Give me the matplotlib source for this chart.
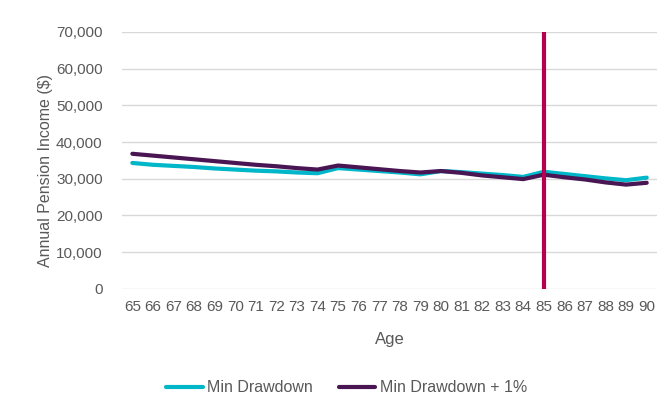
import matplotlib.pyplot as plt
import numpy as np

ages = list(range(65, 91))
min_drawdown = [34300, 33800, 33500, 33200, 32800, 32500, 32200, 32000, 31700, 31500,
                32900, 32500, 32100, 31700, 31200, 32100, 31800, 31400, 31000, 30500,
                31900, 31300, 30700, 30100, 29600, 30300]
min_drawdown_1 = [36800, 36300, 35800, 35300, 34800, 34300, 33800, 33400, 32900, 32500,
                  33600, 33100, 32600, 32100, 31700, 32100, 31600, 30900, 30400, 29900,
                  31100, 30400, 29800, 29000, 28400, 28900]
marker_age = 85
yticks = list(range(0, 70001, 10000))

plt.rcParams['font.family'] = ['Liberation Sans', 'DejaVu Sans']
grey = '#595959'

fig = plt.figure(figsize=(6.67, 4.04), dpi=100)
ax = fig.add_axes([0.183, 0.285, 0.802, 0.636])

ax.plot(ages, min_drawdown, color='#00B7C9', lw=3, label='Min Drawdown', solid_capstyle='round')
ax.plot(ages, min_drawdown_1, color='#4A1553', lw=3, label='Min Drawdown + 1%', solid_capstyle='round')
ax.axvline(marker_age, color='#B4004E', lw=3)

ax.set_xlim(64.5, 90.5)
ax.set_ylim(0, 70000)
ax.set_xticks(ages)
ax.set_yticks(yticks)
ax.set_yticklabels([f'{v:,}' for v in yticks])
ax.grid(axis='y', color='#D9D9D9', lw=1)
ax.set_axisbelow(True)
for s in ax.spines.values():
    s.set_visible(False)
ax.tick_params(length=0, labelsize=11, colors=grey, pad=8)
ax.tick_params(axis='y', pad=14)

ax.set_xlabel('Age', fontsize=12, color=grey, labelpad=13)
ax.set_ylabel('Annual Pension Income ($)', fontsize=11.5, color=grey)
ax.yaxis.set_label_coords(-0.13, 0.459)

ax.legend(loc='upper center', bbox_to_anchor=(0.42, -0.30), ncol=2, frameon=False,
          fontsize=11.5, labelcolor=grey, handlelength=2.3, columnspacing=1.6, handletextpad=0.3)

fig.savefig('out.png', dpi=100)
